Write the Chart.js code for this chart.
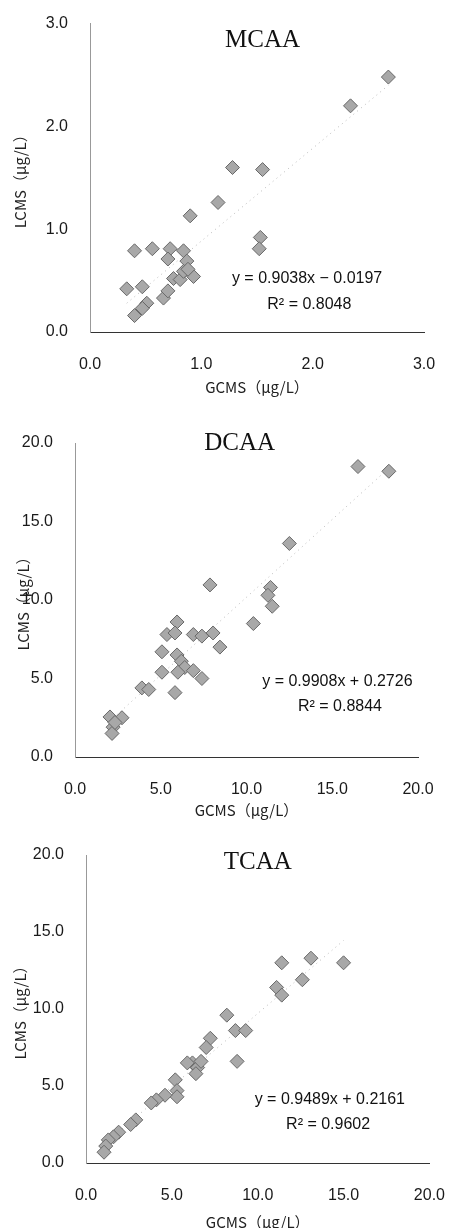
<!DOCTYPE html>
<html>
<head>
<meta charset="utf-8">
<script src="https://cdn.jsdelivr.net/npm/chart.js@4.4.1/dist/chart.umd.min.js"></script>
<style>
	html, body { margin: 0; padding: 0; background: #fff; overflow: hidden; width: 460px; height: 1228px; }
	canvas { position: absolute; left: 0; }
</style>
</head>
<body>
<canvas id="graph-1" width="460" height="400" style="top:0"></canvas>
<canvas id="graph-2" width="460" height="430" style="top:400px"></canvas>
<canvas id="graph-3" width="460" height="401" style="top:830px"></canvas>
<script>
// MCAA
const mcaaGcms = [0.40, 0.56, 0.72, 0.70, 0.84, 0.87, 0.90, 1.15, 0.33, 0.47, 0.51, 0.40, 0.47, 0.66, 0.70, 0.75, 0.81, 0.84, 0.93, 0.88, 2.68, 2.34, 1.28, 1.55, 1.53, 1.52];
const mcaaLcms = [0.79, 0.81, 0.81, 0.71, 0.79, 0.69, 1.13, 1.26, 0.42, 0.44, 0.28, 0.16, 0.23, 0.33, 0.40, 0.52, 0.51, 0.59, 0.54, 0.61, 2.48, 2.20, 1.60, 1.58, 0.92, 0.81];
const mcaaTrendX = [0.33, 2.68];
const mcaaTrendY = [0.28, 2.40];

// DCAA
const dcaaGcms = [16.5, 18.3, 12.5, 11.4, 11.25, 11.5, 10.4, 7.87, 5.95, 5.36, 5.83, 6.9, 7.4, 8.05, 8.45, 5.07, 5.95, 6.2, 6.4, 6.0, 6.9, 7.4, 5.07, 5.83, 3.9, 4.3, 2.04, 2.74, 2.22, 2.16, 2.33];
const dcaaLcms = [18.5, 18.2, 13.6, 10.8, 10.3, 9.6, 8.5, 10.96, 8.6, 7.8, 7.9, 7.8, 7.7, 7.9, 7.0, 6.7, 6.5, 6.1, 5.7, 5.4, 5.5, 5.0, 5.4, 4.1, 4.4, 4.3, 2.55, 2.5, 1.9, 1.5, 2.2];
const dcaaTrendX = [2.0, 18.3];
const dcaaTrendY = [2.25, 18.40];

// TCAA
const tcaaGcms = [11.4, 13.1, 15.0, 12.6, 11.1, 11.4, 8.2, 8.7, 9.3, 8.8, 7.24, 7.0, 6.2, 5.9, 6.5, 6.7, 6.4, 5.2, 5.3, 5.3, 4.6, 4.1, 3.8, 2.9, 2.6, 1.9, 1.6, 1.3, 1.15, 1.05];
const tcaaLcms = [13.0, 13.3, 13.0, 11.9, 11.4, 10.9, 9.6, 8.6, 8.6, 6.6, 8.1, 7.5, 6.5, 6.5, 6.2, 6.6, 5.8, 5.4, 4.7, 4.3, 4.4, 4.1, 3.9, 2.8, 2.5, 2.0, 1.7, 1.5, 1.1, 0.7];
const tcaaTrendX = [1.0, 15.0];
const tcaaTrendY = [1.17, 14.45];

const xTitle = 'GCMS（µg/L）';
const yTitle = 'LCMS（µg/L）';

Chart.defaults.font.family = '"Liberation Sans", Arial, sans-serif';
Chart.defaults.color = '#1a1a1a';

// text drawn at data coordinates (panel title, fit equation)
function notesPlugin(items) {
	return {
		id: 'notes',
		afterDatasetsDraw(chart) {
			const { ctx, scales: { x, y } } = chart;
			ctx.save();
			ctx.textAlign = 'center';
			ctx.textBaseline = 'middle';
			ctx.fillStyle = '#111';
			items.forEach(it => {
				ctx.font = it.font;
				ctx.fillText(it.text, x.getPixelForValue(it.x), y.getPixelForValue(it.y));
			});
			ctx.restore();
		}
	};
}

function makeChart(id, o) {
	const points = o.gcms.map((g, i) => ({ x: g, y: o.lcms[i] }));
	const trend = o.trendX.map((g, i) => ({ x: g, y: o.trendY[i] }));
	const tickFont = { size: 16 };
	const titleFont = { family: '"Noto Sans CJK JP", "Noto Sans", sans-serif', size: 15 };

	return new Chart(document.getElementById(id), {
		type: 'scatter',
		data: {
			datasets: [{
				data: points,
				pointStyle: 'rectRot',
				pointRadius: 7,
				backgroundColor: '#a8a8a8',
				borderColor: '#686868',
				borderWidth: 1,
				order: 1,
			}, {
				type: 'line',
				data: trend,
				borderColor: '#b8b8b8',
				borderWidth: 1,
				borderDash: [1, 4],
				pointRadius: 0,
				fill: false,
				order: 2,
			}]
		},
		options: {
			responsive: false,
			animation: false,
			events: [],
			layout: {
				autoPadding: false,
				padding: { left: 0, top: o.top, right: o.right, bottom: 0 }
			},
			scales: {
				x: {
					type: 'linear',
					min: 0,
					max: o.max,
					afterFit: s => { s.height = o.xH; },
					ticks: { stepSize: o.step, padding: 15, maxRotation: 0, font: tickFont, callback: v => v.toFixed(1) },
					grid: { display: false },
					border: { color: '#333', width: 1 },
					title: { display: true, text: xTitle, font: titleFont, color: '#222', padding: { top: 0, bottom: o.xTitlePad } }
				},
				y: {
					min: 0,
					max: o.max,
					afterFit: s => { s.width = o.yW; },
					ticks: { stepSize: o.step, padding: 14, font: tickFont, callback: v => v.toFixed(1) },
					grid: { display: false },
					border: { color: '#999', width: 1, dash: [2, 3] },
					title: { display: true, text: yTitle, font: titleFont, color: '#222', padding: { top: o.yTitlePad, bottom: 0 } }
				}
			},
			plugins: {
				legend: { display: false },
				tooltip: { enabled: false }
			}
		},
		plugins: [notesPlugin(o.notes)]
	});
}

const serif = '25px "Liberation Serif", "Times New Roman", serif';
const sans = '16px "Liberation Sans", Arial, sans-serif';

makeChart('graph-1', {
	gcms: mcaaGcms, lcms: mcaaLcms, trendX: mcaaTrendX, trendY: mcaaTrendY,
	max: 3, step: 1, top: 16, right: 36, xH: 68, yW: 90, xTitlePad: 4, yTitlePad: 11,
	notes: [
		{ text: 'MCAA', x: 1.55, y: 2.84, font: serif },
		{ text: 'y = 0.9038x − 0.0197', x: 1.95, y: 0.52, font: sans },
		{ text: 'R² = 0.8048', x: 1.97, y: 0.27, font: sans }
	]
});

// ==========================================================================================================

makeChart('graph-2', {
	gcms: dcaaGcms, lcms: dcaaLcms, trendX: dcaaTrendX, trendY: dcaaTrendY,
	max: 20, step: 5, top: 43, right: 42, xH: 73, yW: 75, xTitlePad: 11, yTitlePad: 14,
	notes: [
		{ text: 'DCAA', x: 9.6, y: 20.0, font: serif },
		{ text: 'y = 0.9908x + 0.2726', x: 15.3, y: 4.8, font: sans },
		{ text: 'R² = 0.8844', x: 15.45, y: 3.2, font: sans }
	]
});

// ==========================================================================================================

makeChart('graph-3', {
	gcms: tcaaGcms, lcms: tcaaLcms, trendX: tcaaTrendX, trendY: tcaaTrendY,
	max: 20, step: 5, top: 25, right: 12, xH: 68, yW: 86, xTitlePad: 0, yTitlePad: 11,
	notes: [
		{ text: 'TCAA', x: 10.0, y: 19.5, font: serif },
		{ text: 'y = 0.9489x + 0.2161', x: 14.2, y: 4.1, font: sans },
		{ text: 'R² = 0.9602', x: 14.1, y: 2.5, font: sans }
	]
});
</script>
</body>
</html>
